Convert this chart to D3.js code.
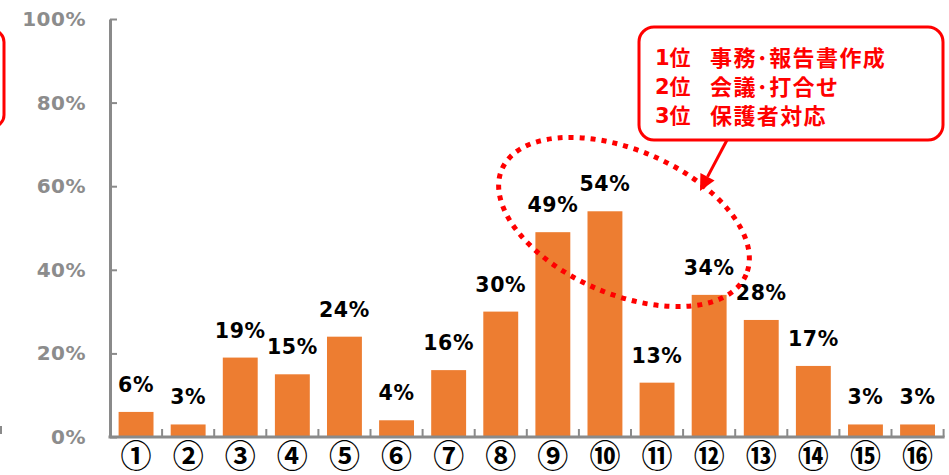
<!DOCTYPE html>
<html>
<head>
<meta charset="utf-8">
<script src="https://cdn.jsdelivr.net/npm/d3@7"></script>
<style>
  html, body { margin: 0; padding: 0; background: #fff; }
  svg { display: block; }
</style>
</head>
<body>
<svg id="chart" width="949" height="475"></svg>
<script>
// Task categories (circled numbers) and share of respondents (%)
const categories = ["①","②","③","④","⑤","⑥","⑦","⑧","⑨","⑩","⑪","⑫","⑬","⑭","⑮","⑯"];
const values = [6, 3, 19, 15, 24, 4, 16, 30, 49, 54, 13, 34, 28, 17, 3, 3];
const yTicks = [0, 20, 40, 60, 80, 100];
const rankLabels = ["1位", "2位", "3位"];
const rankItems = ["事務･報告書作成", "会議･打合せ", "保護者対応"];

const svg = d3.select("#chart");
const orange = "#ED7D31";
const axisGray = "#8a8a8a";
const red = "#FF0000";
const latin = "'DejaVu Sans', 'Noto Sans CJK JP', sans-serif";

const x = d3.scaleBand()
  .domain(categories)
  .range([110, 943.6])
  .paddingInner(0.33)
  .paddingOuter(0.165);

const y = d3.scaleLinear().domain([0, 100]).range([437, 19]);

// Bars
svg.append("g").selectAll("rect")
  .data(values)
  .join("rect")
  .attr("x", (d, i) => x(categories[i]))
  .attr("y", d => y(d))
  .attr("width", x.bandwidth())
  .attr("height", d => y(0) - y(d))
  .attr("fill", orange);

// Value labels
svg.append("g").selectAll("text")
  .data(values)
  .join("text")
  .attr("x", (d, i) => x(categories[i]) + x.bandwidth() / 2)
  .attr("y", d => y(d) - 20)
  .attr("text-anchor", "middle")
  .attr("font-family", latin)
  .attr("font-weight", "bold")
  .attr("font-size", 20.5)
  .attr("letter-spacing", 0.6)
  .attr("fill", "#000")
  .text(d => d + "%");

// Y axis with inward ticks
const yAxis = d3.axisLeft(y)
  .tickValues(yTicks)
  .tickFormat(d => d + "%")
  .tickSizeInner(-7)
  .tickSizeOuter(0)
  .tickPadding(24);

const gy = svg.append("g").attr("transform", "translate(110,0)").call(yAxis);
gy.select(".domain").attr("stroke", axisGray).attr("stroke-width", 3);
gy.selectAll(".tick line").attr("stroke", axisGray).attr("stroke-width", 2);
gy.selectAll(".tick text")
  .attr("font-family", latin)
  .attr("font-weight", "bold")
  .attr("font-size", 20)
  .attr("letter-spacing", 0.5)
  .attr("fill", "#8c8c8c");

// X axis: category labels under each bar
const xAxis = d3.axisBottom(x).tickSize(0).tickPadding(8);
const gx = svg.append("g").attr("transform", "translate(0,437)").call(xAxis);
gx.select(".domain").remove();
gx.selectAll(".tick text")
  .attr("font-family", "'Noto Sans CJK JP', sans-serif")
  .attr("font-weight", "bold")
  .attr("font-size", 31)
  .attr("fill", "#000");

// Category boundary ticks pointing up into the plot
const r0 = x.range()[0];
svg.append("g").selectAll("line")
  .data(d3.range(1, categories.length + 1))
  .join("line")
  .attr("x1", i => r0 + i * x.step())
  .attr("x2", i => r0 + i * x.step())
  .attr("y1", y(0))
  .attr("y2", y(0) - 8)
  .attr("stroke", axisGray)
  .attr("stroke-width", 2);

// Baseline
svg.append("line")
  .attr("x1", 108.5).attr("x2", r0 + categories.length * x.step() + 1)
  .attr("y1", y(0)).attr("y2", y(0))
  .attr("stroke", axisGray).attr("stroke-width", 3);

// Edge of the neighbouring panel on the left
svg.append("rect")
  .attr("x", -300).attr("y", 30).attr("width", 304).attr("height", 97)
  .attr("rx", 12)
  .attr("fill", "none").attr("stroke", red).attr("stroke-width", 3);
svg.append("line")
  .attr("x1", 1).attr("x2", 1).attr("y1", 426).attr("y2", 434)
  .attr("stroke", axisGray).attr("stroke-width", 2);

// Dotted ellipse around the top-ranked tasks
svg.append("ellipse")
  .attr("cx", 0).attr("cy", 0)
  .attr("rx", 133).attr("ry", 72)
  .attr("transform", "translate(624,222) rotate(23.4)")
  .attr("fill", "none")
  .attr("stroke", red)
  .attr("stroke-width", 5)
  .attr("stroke-dasharray", "5,6");

// Callout box with the ranking
svg.append("rect")
  .attr("x", 639).attr("y", 27).attr("width", 304).attr("height", 113)
  .attr("rx", 15)
  .attr("fill", "#fff").attr("stroke", red).attr("stroke-width", 3);

const lines = svg.append("g")
  .attr("fill", red)
  .attr("font-weight", "bold");
rankLabels.forEach((lab, i) => {
  const by = 65 + i * 29;
  lines.append("text")
    .attr("x", 655).attr("y", by)
    .attr("font-family", latin)
    .attr("font-size", 21)
    .text(lab);
  lines.append("text")
    .attr("x", 710).attr("y", by + 1)
    .attr("font-family", "'Noto Sans CJK JP', sans-serif")
    .attr("font-size", 22)
    .attr("letter-spacing", 1.4)
    .text(rankItems[i]);
});

// Arrow from the callout to the ellipse
const ax0 = 727, ay0 = 140, ax1 = 700, ay1 = 191;
const ang = Math.atan2(ay1 - ay0, ax1 - ax0);
const headLen = 16, headW = 8;
const bx = ax1 - headLen * Math.cos(ang), by = ay1 - headLen * Math.sin(ang);
svg.append("line")
  .attr("x1", ax0).attr("y1", ay0).attr("x2", bx).attr("y2", by)
  .attr("stroke", red).attr("stroke-width", 3);
svg.append("path")
  .attr("d", d3.line()([
    [ax1, ay1],
    [bx + headW * Math.sin(ang), by - headW * Math.cos(ang)],
    [bx - headW * Math.sin(ang), by + headW * Math.cos(ang)]
  ]) + "Z")
  .attr("fill", red);
</script>
</body>
</html>
